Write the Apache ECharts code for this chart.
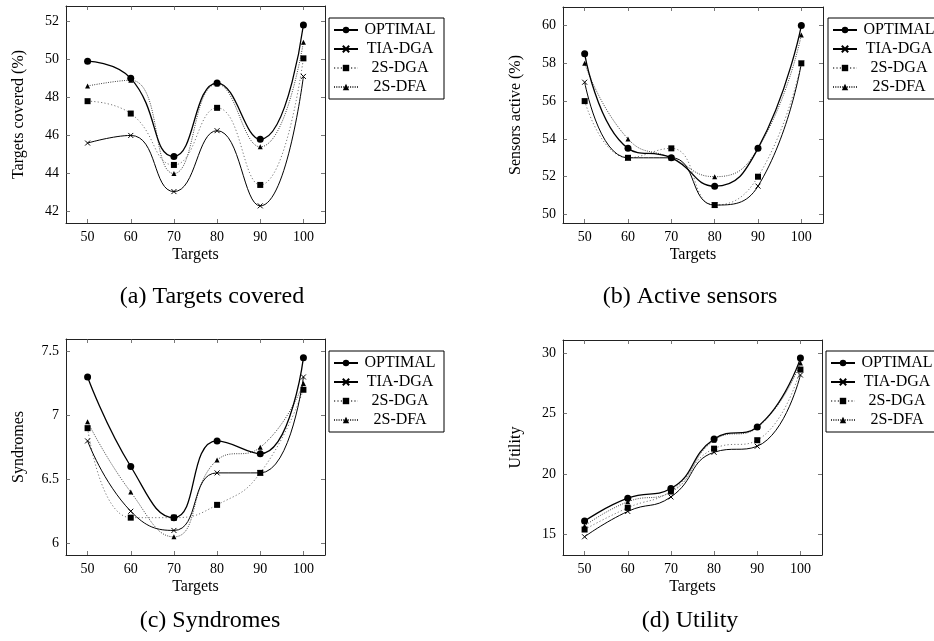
<!DOCTYPE html>
<html>
<head>
<meta charset="utf-8">
<script src="https://cdn.jsdelivr.net/npm/echarts@6/dist/echarts.min.js"></script>
<style>
  html, body { margin: 0; padding: 0; background: #fff; }
  #main { width: 934px; height: 641px; }
</style>
</head>
<body>
<div id="main"></div>
<script>
// data
var targets = [50, 60, 70, 80, 90, 100];
var seriesNames = ['OPTIMAL', 'TIA-DGA', '2S-DGA', '2S-DFA'];

var coveredOptimal = [49.9, 49.0, 44.9, 48.75, 45.8, 51.8];
var coveredTia     = [45.6, 46.0, 43.05, 46.25, 42.3, 49.1];
var coveredDga     = [47.8, 47.15, 44.45, 47.45, 43.4, 50.05];
var coveredDfa     = [48.6, 48.9, 44.0, 48.7, 45.4, 50.9];

var activeOptimal = [58.5, 53.5, 53.0, 51.5, 53.5, 60.0];
var activeTia     = [57.0, 53.0, 53.0, 50.5, 51.5, 58.0];
var activeDga     = [56.0, 53.0, 53.5, 50.5, 52.0, 58.0];
var activeDfa     = [58.0, 54.0, 53.0, 52.0, 53.5, 59.5];

var syndOptimal = [7.3, 6.6, 6.2, 6.8, 6.7, 7.45];
var syndTia     = [6.8, 6.25, 6.1, 6.55, 6.55, 7.3];
var syndDga     = [6.9, 6.2, 6.2, 6.3, 6.55, 7.2];
var syndDfa     = [6.95, 6.4, 6.05, 6.65, 6.75, 7.25];

var utilOptimal = [16.1, 18.0, 18.8, 22.9, 23.9, 29.6];
var utilTia     = [14.8, 16.9, 18.1, 21.8, 22.3, 28.2];
var utilDga     = [15.4, 17.2, 18.6, 22.1, 22.8, 28.65];
var utilDfa     = [15.7, 17.7, 18.5, 22.8, 23.85, 29.2];

var xTicks = [50, 60, 70, 80, 90, 100];
var coveredTicks = [42, 44, 46, 48, 50, 52];
var activeTicks = [50, 52, 54, 56, 58, 60];
var syndTicks = [6, 6.5, 7, 7.5];
var utilTicks = [15, 20, 25, 30];

var FONT = 'Liberation Serif';

var panels = [
  {grid: {left: 66, top: 6, width: 259, height: 217}, ymin: 41.4, ymax: 52.8, yTicks: coveredTicks,
   yName: 'Targets covered (%)', values: [coveredOptimal, coveredTia, coveredDga, coveredDfa],
   legend: {left: 329, top: 18}, caption: '(a) Targets covered', cx: 212, cy: 297},
  {grid: {left: 563, top: 7, width: 260, height: 216}, ymin: 49.55, ymax: 60.98, yTicks: activeTicks,
   yName: 'Sensors active (%)', values: [activeOptimal, activeTia, activeDga, activeDfa],
   legend: {left: 828, top: 18}, caption: '(b) Active sensors', cx: 690, cy: 297},
  {grid: {left: 66, top: 339, width: 259, height: 216}, ymin: 5.908, ymax: 7.597, yTicks: syndTicks,
   yName: 'Syndromes', values: [syndOptimal, syndTia, syndDga, syndDfa],
   legend: {left: 329, top: 351}, caption: '(c) Syndromes', cx: 210, cy: 621},
  {grid: {left: 563, top: 340, width: 259, height: 215}, ymin: 13.29, ymax: 31.1, yTicks: utilTicks,
   yName: 'Utility', values: [utilOptimal, utilTia, utilDga, utilDfa],
   legend: {left: 826, top: 351}, caption: '(d) Utility', cx: 690, cy: 621}
];

var styles = [
  {symbol: 'circle', symbolSize: 7, line: {color: '#000', width: 1.3, type: 'solid'}},
  {symbol: 'path://M0,0L10,10M10,0L0,10', symbolSize: 5, line: {color: '#000', width: 1, type: 'solid'}},
  {symbol: 'rect', symbolSize: 6, line: {color: '#777', width: 1, type: [1.2, 2.2]}},
  {symbol: 'triangle', symbolSize: 5, line: {color: '#444', width: 1, type: [1, 1.3]}}
];

function axisBase(ticks, pos, withLabels) {
  return {
    type: 'value',
    position: pos,
    axisLine: {show: true, onZero: false, lineStyle: {color: '#222', width: 1}},
    axisTick: {show: true, inside: true, length: 4, customValues: ticks, lineStyle: {color: '#555', width: 0.8}},
    axisLabel: {show: withLabels, customValues: ticks, margin: 7, color: '#000', fontFamily: FONT, fontSize: 14},
    splitLine: {show: false}
  };
}

var grids = [], xAxes = [], yAxes = [], series = [], legends = [], graphics = [];

panels.forEach(function (p, i) {
  grids.push(p.grid);

  var xb = axisBase(xTicks, 'bottom', true);
  xb.gridIndex = i; xb.min = 45; xb.max = 105;
  xb.name = 'Targets'; xb.nameLocation = 'middle'; xb.nameGap = 24;
  xb.nameTextStyle = {color: '#000', fontFamily: FONT, fontSize: 16};
  var xt = axisBase(xTicks, 'top', false);
  xt.gridIndex = i; xt.min = 45; xt.max = 105;
  xAxes.push(xb, xt);

  var yl = axisBase(p.yTicks, 'left', true);
  yl.gridIndex = i; yl.min = p.ymin; yl.max = p.ymax;
  yl.name = p.yName; yl.nameLocation = 'middle'; yl.nameGap = 39;
  yl.nameTextStyle = {color: '#000', fontFamily: FONT, fontSize: 16};
  var yr = axisBase(p.yTicks, 'right', false);
  yr.gridIndex = i; yr.min = p.ymin; yr.max = p.ymax;
  yAxes.push(yl, yr);

  seriesNames.forEach(function (name, k) {
    var st = styles[k];
    series.push({
      name: name,
      type: 'line',
      xAxisIndex: 2 * i,
      yAxisIndex: 2 * i,
      smooth: 0.5,
      symbol: st.symbol,
      symbolSize: st.symbolSize,
      showAllSymbol: true,
      lineStyle: st.line,
      itemStyle: {color: '#000', borderColor: '#000', borderWidth: k === 1 ? 1 : 0},
      emphasis: {disabled: true},
      z: 10 - k,
      data: targets.map(function (t, j) { return [t, p.values[k][j]]; })
    });
  });

  legends.push({
    orient: 'vertical',
    left: p.legend.left,
    top: p.legend.top,
    data: seriesNames,
    selectedMode: false,
    itemWidth: 24,
    itemHeight: 8,
    itemGap: 3,
    padding: [4, 4, 4, 4],
    borderColor: '#000',
    borderWidth: 1,
    borderRadius: 0,
    backgroundColor: '#fff',
    formatter: function (name) { return '{c|' + name + '}'; },
    textStyle: {
      color: '#000', fontFamily: FONT, fontSize: 16, padding: [0, 0, 0, -3],
      rich: {c: {width: 80, align: 'center', fontFamily: FONT, fontSize: 16, lineHeight: 16, color: '#000'}}
    }
  });

  graphics.push({
    type: 'text',
    x: p.cx,
    y: p.cy,
    style: {text: p.caption, fill: '#000', font: '24px "' + FONT + '"', align: 'center', verticalAlign: 'middle'}
  });
});

var dom = document.getElementById('main');
var myChart = echarts.init(dom, null, {renderer: 'canvas'});
var option = {
  backgroundColor: '#fff',
  animation: false,
  grid: grids,
  xAxis: xAxes,
  yAxis: yAxes,
  legend: legends,
  series: series,
  graphic: graphics
};

if (option && typeof option === 'object') {
  myChart.setOption(option, true);
}
</script>
</body>
</html>
